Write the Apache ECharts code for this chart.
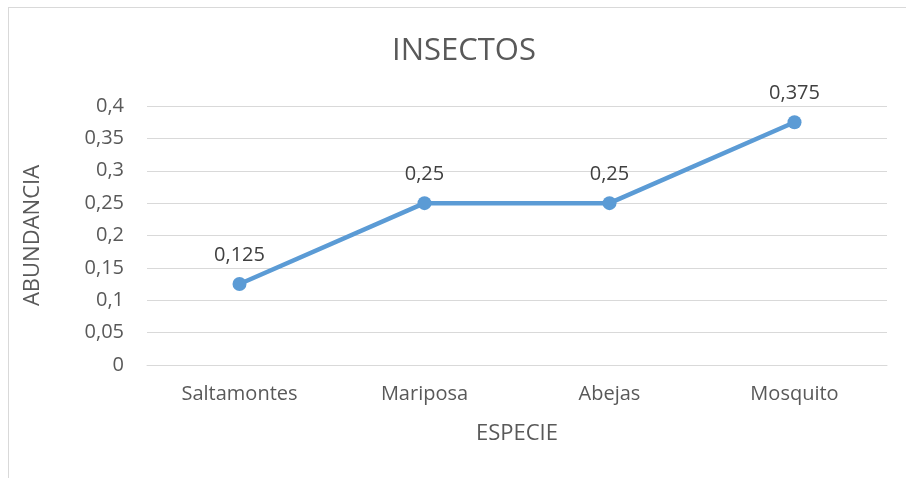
<!DOCTYPE html>
<html><head><meta charset="utf-8">
<script src="https://cdn.jsdelivr.net/npm/echarts@6/dist/echarts.min.js"></script>
<style>html,body{margin:0;padding:0;background:#fff}#c{width:906px;height:478px;position:relative}
#frame{position:absolute;left:8px;top:7px;width:1000px;height:1000px;border:1px solid #d9d9d9;box-sizing:border-box;pointer-events:none}</style>
</head><body><div id="c"></div><div id="frame"></div>
<script>
const categories = ['Saltamontes', 'Mariposa', 'Abejas', 'Mosquito'];
const abundancia = [0.125, 0.25, 0.25, 0.375];
const yTicks = [0, 0.05, 0.1, 0.15, 0.2, 0.25, 0.3, 0.35, 0.4];
const fmt = v => String(v).replace('.', ',');
const font = '"Open Sans", "Noto Sans", sans-serif';
const chart = echarts.init(document.getElementById('c'), null, {renderer: 'canvas'});
chart.setOption({
  animation: false,
  title: {text: 'INSECTOS', left: 459, top: 31, textAlign: 'center',
    textStyle: {color: '#595959', fontSize: 31, fontWeight: 'normal', fontFamily: font}},
  grid: {left: 147, right: 19, top: 106, bottom: 113},
  xAxis: {type: 'category', data: categories, boundaryGap: true,
    name: 'ESPECIE', nameLocation: 'middle', nameGap: 58,
    nameTextStyle: {color: '#595959', fontSize: 22, fontFamily: font},
    axisLine: {lineStyle: {color: '#d9d9d9', width: 1}},
    axisTick: {show: false},
    axisLabel: {color: '#595959', fontSize: 20, fontFamily: font, margin: 19}},
  yAxis: {type: 'value', min: yTicks[0], max: yTicks[yTicks.length - 1], interval: 0.05,
    name: 'ABUNDANCIA', nameLocation: 'middle', nameGap: 103, nameRotate: 90,
    nameTextStyle: {color: '#595959', fontSize: 22, fontFamily: font},
    axisLine: {show: false}, axisTick: {show: false},
    splitLine: {lineStyle: {color: '#d9d9d9', width: 1}},
    axisLabel: {color: '#595959', fontSize: 20, fontFamily: font, margin: 23,
      formatter: v => fmt(Math.round(v * 100) / 100)}},
  series: [{type: 'line', data: abundancia, symbol: 'circle', symbolSize: 14,
    lineStyle: {color: '#5b9bd5', width: 4.5}, itemStyle: {color: '#5b9bd5'},
    label: {show: true, position: 'top', distance: 12, color: '#404040', fontSize: 20, fontFamily: font,
      formatter: p => fmt(p.value)}}]
});
</script></body></html>
